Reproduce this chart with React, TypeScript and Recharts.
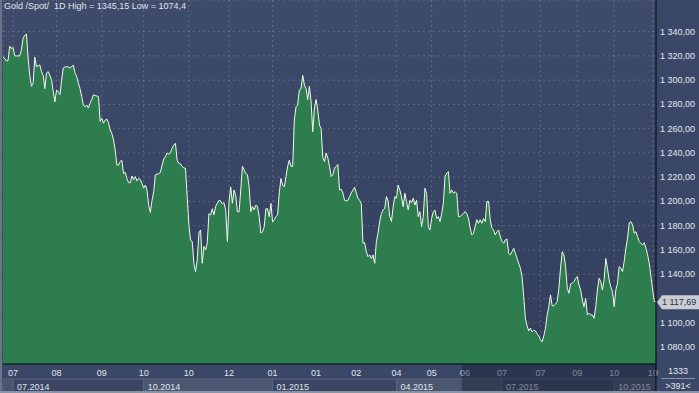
import { AreaChart, Area, XAxis, YAxis, CartesianGrid, ReferenceLine } from 'recharts';

// Gold spot, daily closes, 07.2014 – 11.2015 (391 bars)
const julAug14 = [
  1319, 1318, 1316, 1316, 1328, 1326, 1327, 1320, 1320, 1320,
  1320, 1325, 1334.5, 1337, 1338, 1318, 1304, 1295, 1297.5, 1319,
  1311, 1312, 1312.5, 1307, 1304, 1293, 1306, 1307, 1304, 1300,
  1290.5, 1282, 1292, 1290.5, 1288, 1300, 1310, 1311, 1311, 1311,
  1310, 1311, 1312.5, 1306, 1303, 1297.5, 1293, 1286.5, 1279.5, 1278,
  1279.5, 1277, 1281, 1284, 1288, 1287.5, 1287, 1286.5, 1266, 1268.5,
  1264.5, 1267, 1268, 1265,
];
const sepNov14 = [
  1259, 1256, 1251, 1242.5, 1230, 1230, 1233, 1234, 1223, 1224,
  1219, 1215.5, 1215.5, 1221, 1218, 1220.5, 1217, 1219, 1218, 1215,
  1211, 1213.5, 1209.5, 1197, 1191, 1201, 1208, 1222, 1222.5, 1223,
  1224, 1230, 1235, 1237, 1240, 1239, 1240, 1244, 1246.5, 1248,
  1234, 1231.5, 1231, 1229, 1227.5, 1227.5, 1204, 1181, 1168, 1167,
  1149, 1142, 1152, 1174, 1176.5, 1149, 1163, 1160, 1166, 1190,
  1189, 1194, 1189, 1196,
];
const decJan15 = [
  1198.5, 1201, 1200.5, 1198, 1199, 1193, 1167, 1200, 1212, 1198.5,
  1209.5, 1205, 1191.5, 1191.5, 1209.5, 1229, 1226, 1223, 1222, 1212,
  1191.5, 1196, 1193, 1197, 1196, 1187.5, 1174, 1175, 1179, 1194,
  1194, 1187.5, 1198.5, 1183, 1185, 1187.5, 1189, 1207, 1219, 1213.5,
  1212, 1220.5, 1229, 1234, 1229, 1229, 1267, 1278, 1279.5, 1292,
  1293, 1304, 1296, 1293, 1284, 1295, 1282, 1257.5, 1277, 1284,
  1275.5, 1263, 1260,
];
const febApr15 = [
  1236, 1233, 1240, 1236, 1229, 1220.5, 1222, 1227.5, 1229, 1230.5,
  1209.5, 1210, 1207, 1201, 1200.5, 1201, 1204, 1207, 1209.5, 1211.7,
  1207, 1202.7, 1201, 1198, 1165.6, 1166, 1158.6, 1154.5, 1156, 1153,
  1156, 1149, 1167, 1174, 1183.5, 1190, 1193, 1194.4, 1204, 1200,
  1187.5, 1183.5, 1195.7, 1204, 1202.7, 1213.6, 1209.5, 1204, 1195.7, 1206.8,
  1200, 1193, 1201, 1199, 1202.7, 1197, 1201, 1187.5,
];
const aprJul15 = [
  1191.6, 1179.3, 1187.5, 1211, 1206.8, 1179.3, 1176.5, 1186, 1191.6, 1193,
  1186, 1187.5, 1183.4, 1190, 1198.5, 1220.5, 1223.3, 1224.6, 1206.8, 1209.5,
  1206.8, 1208, 1206.8, 1187.5, 1187.5, 1189, 1190, 1191.6, 1190, 1186,
  1178, 1172.4, 1173.8, 1179.3, 1185, 1182, 1185, 1182, 1186, 1183.4,
  1200, 1200, 1185, 1178, 1176.5, 1172.4, 1175, 1176.5, 1171, 1167,
  1165.6, 1168.3, 1169, 1157.3, 1156, 1158.6, 1161.5, 1157.3, 1153, 1149,
  1145, 1138, 1121.5, 1103.7,
];
const julAug15 = [1097.4, 1093.3, 1095.7, 1092.4, 1094, 1093.3, 1090.8, 1089.2, 1085.9, 1084.2, 1089.2];
const augNov15 = [
  1095.5, 1106.5, 1113.3, 1123, 1114, 1114, 1115.5, 1117.4, 1128.5, 1145,
  1158.6, 1156, 1146.3, 1128.5, 1124.3, 1132, 1132.6, 1134, 1136.7, 1138,
  1131.2, 1127, 1118.8, 1113.3, 1120, 1106.5, 1107.9, 1106.5, 1106.5, 1103.7,
  1113.3, 1127, 1136.7, 1134, 1127, 1135.3, 1153, 1145, 1135.3, 1129.8,
  1125.7, 1113.3, 1127, 1132.6, 1146.3, 1145, 1142.2, 1150.4, 1161.5, 1169.7,
  1182.3, 1183.5, 1180.6, 1173.8, 1175.1, 1171, 1166.9, 1165.5, 1164.2, 1166.1,
  1161.5, 1156, 1149, 1138, 1127, 1117.4, 1117.69,
];

// bar index where each month label sits (labels copied as shown)
const monthTicks = [6, 32, 59, 84, 111, 135, 161, 187, 211, 235, 256, 276, 298, 321, 343, 365, 388];
const monthLabels = ['07', '08', '09', '10', '10', '12', '01', '01', '02', '04', '05', '06', '07', '07', '09', '10', '10'];
const quarterTicks = [6, 84, 161, 235, 298, 365];
const quarterLabels = ['07.2014', '10.2014', '01.2015', '04.2015', '07.2015', '10.2015'];
const priceTicks = [1080, 1100, 1120, 1140, 1160, 1180, 1200, 1220, 1240, 1260, 1280, 1300, 1320, 1340];

const prices = [...julAug14, ...sepNov14, ...decJan15, ...febApr15, ...aprJul15, ...julAug15, ...augNov15];
const data = prices.map((p, i) => ({ i, p }));
const lastIdx = prices.length - 1;
const lastPrice = prices[lastIdx];
const dimFrom = 274; // navigator window ends here

const FONT = '"Liberation Sans", Arial, sans-serif';

function fmtPrice(v: number) {
  const s = v.toFixed(2).replace('.', ',');
  return s.length > 6 ? s.slice(0, s.length - 6) + ' ' + s.slice(s.length - 6) : s;
}

const PriceTick = ({ x, y, payload }: any) => {
  // the last-price tag covers the label next to it
  if (Math.abs(payload.value - lastPrice) < 8) return <g />;
  return (
    <text x={x} y={y} dy={3} fontSize={9} fontFamily={FONT} fill="#e3e8ef">
      {fmtPrice(payload.value)}
    </text>
  );
};

const MonthTick = ({ x, y, payload }: any) => (
  <text x={x} y={y + 12} textAnchor="middle" fontSize={9} fontFamily={FONT} fill="#dfe5ee">
    {monthLabels[monthTicks.indexOf(payload.value)]}
  </text>
);

const QuarterTick = ({ x, y, payload, index, width }: any) => {
  const pxPer = (width ?? 653) / lastIdx;
  const next = index + 1 < quarterTicks.length ? quarterTicks[index + 1] : lastIdx;
  const w = (next - payload.value) * pxPer;
  const isLast = index === quarterTicks.length - 1;
  const dimX = x + (dimFrom - payload.value) * pxPer;
  const endX = x + w;
  return (
    <g>
      {index === 0 && (
        <rect x={x - payload.value * pxPer} y={y} width={payload.value * pxPer} height={14} fill="#4a5570" stroke="#5b6781" />
      )}
      <rect x={x} y={y} width={w} height={14} fill={index % 2 ? '#4b5670' : '#3a4663'} stroke="#5b6781" strokeWidth={1} />
      <text x={x + 4} y={y + 11} fontSize={9} fontFamily={FONT} fill="#dfe5ee">
        {quarterLabels[index]}
      </text>
      {isLast && (
        <>
          <rect x={dimX} y={y - 15} width={endX - dimX} height={29} fill="#1c2438" fillOpacity={0.5} />
          <line x1={endX} x2={endX} y1={y - 15} y2={y + 16} stroke="#000" />
        </>
      )}
    </g>
  );
};

const PriceTag = (props: any) => {
  const vb = props.viewBox;
  const x = vb.x + vb.width;
  const y = vb.y + 1;
  return (
    <g>
      <polygon
        points={`${x + 1},${y} ${x + 6},${y - 7} ${x + 43},${y - 7} ${x + 43},${y + 7} ${x + 6},${y + 7}`}
        fill="#c9cdd3"
      />
      <text x={x + 6} y={y + 3} fontSize={9} fontFamily={FONT} fill="#27324a">
        {fmtPrice(lastPrice)}
      </text>
    </g>
  );
};

export default function App() {
  return (
    <div style={{ position: 'absolute', left: 0, top: 0, width: 699, height: 393, background: '#3a4766', overflow: 'hidden' }}>
      <AreaChart width={699} height={393} data={data} margin={{ top: 0, right: 0, left: 3, bottom: 0 }}>
        <defs>
          <linearGradient id="plotBg" x1="0" y1="0" x2="0" y2="1">
            <stop offset="0%" stopColor="#3e4b6b" />
            <stop offset="100%" stopColor="#323e5c" />
          </linearGradient>
        </defs>
        <CartesianGrid horizontal={false} vertical={false} fill="url(#plotBg)" />
        <XAxis
          dataKey="i"
          type="number"
          domain={[0, lastIdx]}
          ticks={monthTicks}
          tick={<MonthTick />}
          tickLine={false}
          tickSize={0}
          tickMargin={0}
          height={15}
          axisLine={{ stroke: '#000' }}
          interval={0}
        />
        <XAxis
          xAxisId="q"
          dataKey="i"
          type="number"
          domain={[0, lastIdx]}
          ticks={quarterTicks}
          tick={<QuarterTick />}
          tickLine={false}
          tickSize={0}
          tickMargin={0}
          height={14}
          axisLine={false}
          interval={0}
        />
        <YAxis
          orientation="right"
          type="number"
          domain={[1066, 1366.1]}
          ticks={priceTicks}
          tick={<PriceTick />}
          tickLine={false}
          tickSize={0}
          tickMargin={4}
          width={43}
          axisLine={{ stroke: '#000' }}
          interval={0}
        />
        <Area
          dataKey="p"
          type="linear"
          stroke="#eefbe8"
          strokeWidth={1}
          fill="#2e7d4e"
          fillOpacity={1}
          isAnimationActive={false}
        />
        <CartesianGrid stroke="#ffffff" strokeOpacity={0.18} strokeDasharray="2 3" />
        <ReferenceLine y={lastPrice} stroke="none" label={PriceTag} />
      </AreaChart>
      <div style={{ position: 'absolute', left: 4, top: 1, font: `9px ${FONT}`, color: '#e1e5ec', whiteSpace: 'pre' }}>
        {'Gold /Spot/  1D High = 1345,15 Low = 1074,4'}
      </div>
      <div style={{ position: 'absolute', left: 657, top: 365, width: 42, textAlign: 'center', font: `9px ${FONT}`, color: '#e3e8ef', lineHeight: '12px' }}>
        1333
      </div>
      <div style={{ position: 'absolute', left: 661, top: 378, width: 34, height: 1, background: '#8892a6' }} />
      <div style={{ position: 'absolute', left: 657, top: 380, width: 42, textAlign: 'center', font: `9px ${FONT}`, color: '#e3e8ef', lineHeight: '12px' }}>
        {'>391<'}
      </div>
      <div style={{ position: 'absolute', left: 0, top: 0, width: 2, height: 393, background: '#6b7487' }} />
      <div style={{ position: 'absolute', left: 0, top: 391, width: 699, height: 2, background: '#8a93a3' }} />
    </div>
  );
}
